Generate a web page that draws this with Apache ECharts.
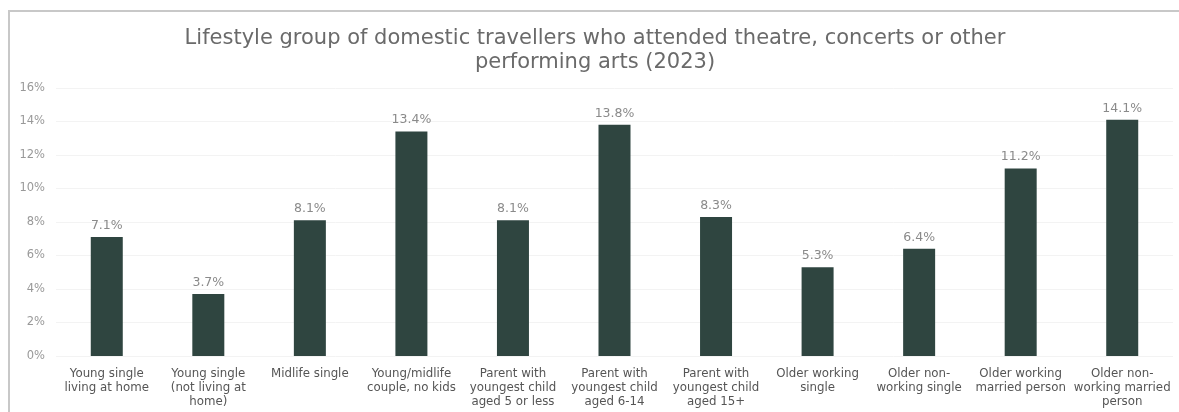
<!DOCTYPE html>
<html><head><meta charset="utf-8">
<script src="https://cdn.jsdelivr.net/npm/echarts@6/dist/echarts.min.js"></script>
<style>
html,body{margin:0;padding:0;background:#fff;}
#frame{position:absolute;left:8px;top:10px;width:1180px;height:410px;border-left:2px solid #c8c8c8;border-top:2px solid #c8c8c8;box-sizing:border-box;}
#c{position:absolute;left:0;top:0;width:1179px;height:412px;}
</style></head>
<body>
<div id="frame"></div>
<div id="c"></div>
<script>
const categories = [
  "Young single\nliving at home",
  "Young single\n(not living at\nhome)",
  "Midlife single",
  "Young/midlife\ncouple, no kids",
  "Parent with\nyoungest child\naged 5 or less",
  "Parent with\nyoungest child\naged 6-14",
  "Parent with\nyoungest child\naged 15+",
  "Older working\nsingle",
  "Older non-\nworking single",
  "Older working\nmarried person",
  "Older non-\nworking married\nperson"
];
const values = [7.1, 3.7, 8.1, 13.4, 8.1, 13.8, 8.3, 5.3, 6.4, 11.2, 14.1];
const yTicks = [0, 2, 4, 6, 8, 10, 12, 14, 16];

const chart = echarts.init(document.getElementById('c'));
chart.setOption({
  animation: false,
  title: {
    text: "Lifestyle group of domestic travellers who attended theatre, concerts or other\nperforming arts (2023)",
    left: 590, textAlign: 'center', top: 22,
    textStyle: {fontFamily: 'DejaVu Sans', fontSize: 21, fontWeight: 'normal', color: '#6a6a6a', lineHeight: 24}
  },
  grid: {left: 56, right: 6, top: 88, bottom: 56},
  xAxis: {
    type: 'category', data: categories,
    axisLine: {show: false}, axisTick: {show: false},
    axisLabel: {interval: 0, fontFamily: 'DejaVu Sans', fontSize: 11.8, color: '#555', lineHeight: 14, margin: 11}
  },
  yAxis: {
    type: 'value', min: 0, max: yTicks[yTicks.length-1], interval: 2,
    axisLabel: {formatter: v => v + '%', fontFamily: 'DejaVu Sans', fontSize: 11.5, color: '#999', margin: 11},
    splitLine: {lineStyle: {color: '#f3f3f3'}},
    axisLine: {show: false}, axisTick: {show: false}
  },
  series: [{
    type: 'bar', data: values, barWidth: 32,
    itemStyle: {color: '#2f4540'},
    label: {show: true, position: 'top', formatter: p => p.value.toFixed(1) + '%', fontFamily: 'DejaVu Sans', fontSize: 12.5, color: '#8a8a8a', distance: 5}
  }]
});
</script>
</body></html>
